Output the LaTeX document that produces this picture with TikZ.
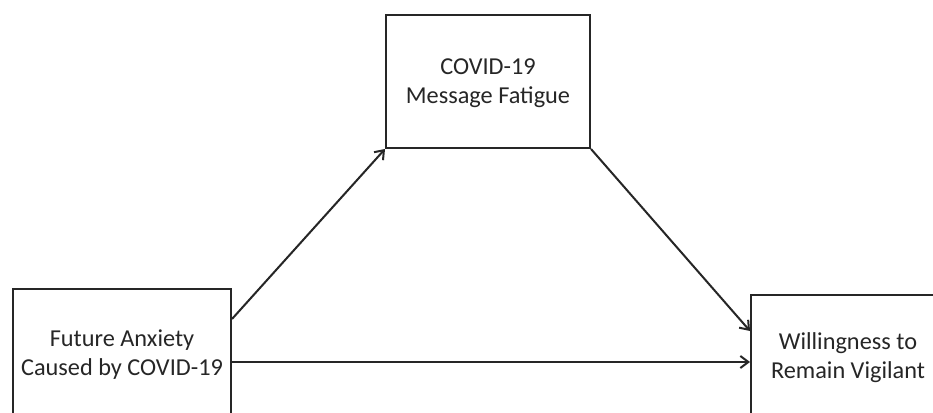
\documentclass[tikz,border=0pt]{standalone}
\usepackage{fontspec}
\setmainfont{Carlito}
\usetikzlibrary{arrows.meta,calc}
\definecolor{ink}{HTML}{262626}
\tikzset{
  varbox/.style={draw=ink, line width=2pt, rectangle, inner sep=0pt},
  varlabel/.style={text=ink, inner sep=0pt, align=center, font=\fontsize{24.3}{29}\selectfont},
  path/.style={draw=ink, line width=2pt, -{Straight Barb[length=8pt,width=12pt,line width=2pt]}},
}
\begin{document}
\begin{tikzpicture}[x=1pt, y=-1pt]
  \useasboundingbox (0,0) rectangle (933,412);
  \fill[white] (0,0) rectangle (933,412);
  \clip (0,0) rectangle (933,412);

  % boxes
  \node[varbox, minimum width=218pt, minimum height=133pt] (fa) at (122,355.5) {};
  \node[varbox, minimum width=204pt, minimum height=133pt] (mf) at (488,81.5) {};
  \node[varbox, minimum width=204pt, minimum height=133pt] (wv) at (853,361.5) {};

  % labels
  \node[varlabel] (tfa) at (122,355) {Future Anxiety\\Caused by COVID-19};
  \node[varlabel] (tmf) at (488,83) {COVID-19\\Message Fatigue};
  \node[varlabel] (twv) at (848,358) {Willingness to\\Remain Vigilant};

  % paths
  \draw[path] ($(fa.north east)+(0,31)$) -- (mf.south west);
  \draw[path] (mf.south east) -- ($(wv.north west)+(0,37)$);
  \draw[path] ($(fa.north east)+(0,74)$) -- ($(wv.north west)+(0,68)$);
\end{tikzpicture}
\end{document}
